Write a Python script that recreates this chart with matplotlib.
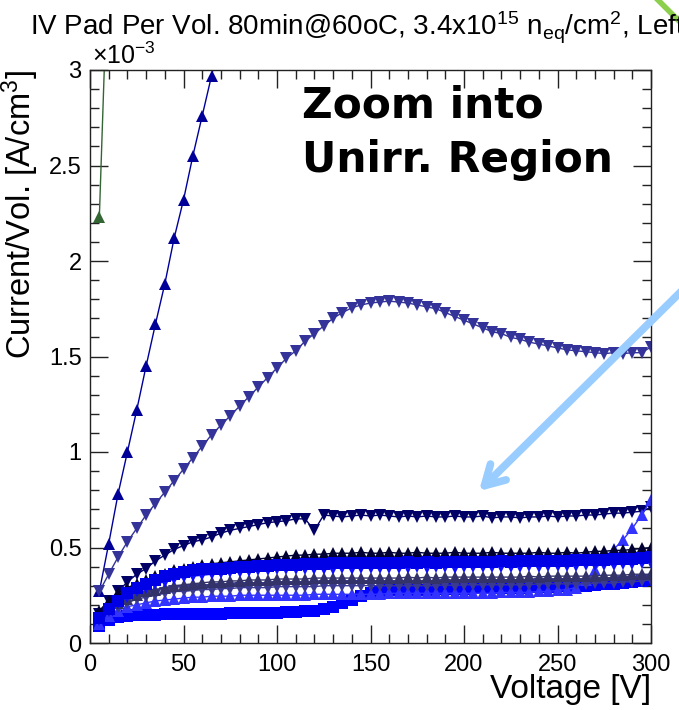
import matplotlib
matplotlib.use("Agg")
import matplotlib.pyplot as plt
from matplotlib.lines import Line2D

plt.rcParams['font.family'] = ['Liberation Sans', 'DejaVu Sans']
plt.rcParams['mathtext.fontset'] = 'custom'
plt.rcParams['mathtext.rm'] = 'Liberation Sans'
plt.rcParams['mathtext.it'] = 'Liberation Sans:italic'

# ---------------- data (current per volume in 1e-3 A/cm^3) ----------------
V = [5, 10, 15, 20, 25, 30, 35, 40, 45, 50, 55, 60, 65, 70, 75, 80, 85, 90, 95, 100,
     105, 110, 115, 120, 125, 130, 135, 140, 145, 150, 155, 160, 165, 170, 175, 180,
     185, 190, 195, 200, 205, 210, 215, 220, 225, 230, 235, 240, 245, 250, 255, 260,
     265, 270, 275, 280, 285, 290, 295, 300]

green_V = [5, 10]
green_I = [2.23, 3.7]

steep_V = [5, 10, 15, 20, 25, 30, 35, 40, 45, 50, 55, 60, 65, 70]
steep_I = [0.27, 0.52, 0.78, 1.00, 1.22, 1.45, 1.67, 1.88, 2.12, 2.32, 2.55, 2.76, 2.97, 3.18]

purple_I = [0.27, 0.36, 0.45, 0.53, 0.60, 0.67, 0.73, 0.79, 0.85, 0.91,
            0.97, 1.03, 1.09, 1.14, 1.19, 1.24, 1.29, 1.34, 1.39, 1.44,
            1.49, 1.53, 1.58, 1.62, 1.66, 1.70, 1.73, 1.755, 1.77, 1.78,
            1.785, 1.79, 1.785, 1.78, 1.77, 1.76, 1.75, 1.73, 1.71, 1.69,
            1.67, 1.65, 1.63, 1.62, 1.60, 1.59, 1.575, 1.565, 1.555, 1.545,
            1.535, 1.53, 1.525, 1.52, 1.515, 1.52, 1.515, 1.52, 1.52, 1.55]

navy_I = [0.15, 0.22, 0.27, 0.32, 0.36, 0.39, 0.43, 0.46, 0.49, 0.51,
          0.53, 0.54, 0.555, 0.575, 0.59, 0.60, 0.61, 0.62, 0.63, 0.635,
          0.64, 0.65, 0.65, 0.59, 0.67, 0.665, 0.66, 0.665, 0.67, 0.665,
          0.67, 0.665, 0.66, 0.665, 0.66, 0.665, 0.66, 0.66, 0.665, 0.66,
          0.66, 0.665, 0.655, 0.66, 0.66, 0.655, 0.66, 0.66, 0.665, 0.66,
          0.665, 0.665, 0.67, 0.67, 0.675, 0.68, 0.68, 0.685, 0.69, 0.71]

black_up_I = [0.17, 0.22, 0.26, 0.29, 0.31, 0.33, 0.35, 0.36, 0.38, 0.39,
              0.40, 0.41, 0.415, 0.42, 0.425, 0.43, 0.435, 0.44, 0.445, 0.45,
              0.455, 0.46, 0.46, 0.465, 0.465, 0.47, 0.47, 0.47, 0.475, 0.47,
              0.47, 0.475, 0.47, 0.47, 0.475, 0.47, 0.47, 0.47, 0.475, 0.47,
              0.47, 0.47, 0.475, 0.47, 0.47, 0.47, 0.47, 0.475, 0.47, 0.47,
              0.475, 0.47, 0.475, 0.48, 0.48, 0.485, 0.485, 0.49, 0.495, 0.50]

blue_sq_hi_I = [0.13, 0.18, 0.22, 0.26, 0.29, 0.31, 0.33, 0.35, 0.36, 0.37,
                0.38, 0.385, 0.39, 0.39, 0.395, 0.40, 0.40, 0.405, 0.405, 0.41,
                0.41, 0.41, 0.415, 0.415, 0.415, 0.42, 0.42, 0.42, 0.42, 0.42,
                0.42, 0.42, 0.42, 0.425, 0.42, 0.425, 0.42, 0.425, 0.425, 0.425,
                0.425, 0.425, 0.425, 0.43, 0.425, 0.43, 0.43, 0.43, 0.43, 0.43,
                0.43, 0.435, 0.435, 0.435, 0.435, 0.44, 0.44, 0.44, 0.445, 0.45]

blue_dn_I = [0.12, 0.17, 0.21, 0.24, 0.27, 0.29, 0.31, 0.32, 0.335, 0.345,
             0.35, 0.355, 0.36, 0.365, 0.37, 0.37, 0.375, 0.38, 0.38, 0.385,
             0.385, 0.385, 0.39, 0.39, 0.39, 0.39, 0.395, 0.39, 0.395, 0.395,
             0.395, 0.395, 0.395, 0.395, 0.40, 0.395, 0.40, 0.40, 0.395, 0.40,
             0.40, 0.40, 0.40, 0.40, 0.40, 0.40, 0.405, 0.40, 0.405, 0.405,
             0.405, 0.405, 0.41, 0.41, 0.41, 0.41, 0.415, 0.415, 0.42, 0.42]

grey_up_I = [0.14, 0.18, 0.21, 0.23, 0.25, 0.27, 0.28, 0.29, 0.30, 0.305,
             0.31, 0.315, 0.32, 0.32, 0.325, 0.325, 0.33, 0.33, 0.33, 0.335,
             0.335, 0.335, 0.335, 0.34, 0.34, 0.34, 0.34, 0.34, 0.34, 0.34,
             0.34, 0.34, 0.34, 0.345, 0.34, 0.345, 0.34, 0.345, 0.345, 0.345,
             0.345, 0.345, 0.345, 0.345, 0.345, 0.345, 0.35, 0.345, 0.35, 0.35,
             0.35, 0.35, 0.35, 0.35, 0.355, 0.355, 0.355, 0.36, 0.36, 0.36]

slate_dn_I = [0.13, 0.17, 0.19, 0.21, 0.23, 0.24, 0.25, 0.26, 0.27, 0.27,
              0.275, 0.28, 0.28, 0.285, 0.285, 0.29, 0.29, 0.29, 0.29, 0.295,
              0.295, 0.295, 0.295, 0.295, 0.30, 0.30, 0.30, 0.30, 0.30, 0.30,
              0.30, 0.30, 0.30, 0.30, 0.30, 0.30, 0.30, 0.305, 0.30, 0.305,
              0.305, 0.305, 0.305, 0.305, 0.305, 0.305, 0.305, 0.31, 0.31, 0.31,
              0.31, 0.31, 0.31, 0.315, 0.315, 0.315, 0.32, 0.32, 0.325, 0.33]

bright_up_I = [0.10, 0.14, 0.17, 0.19, 0.20, 0.21, 0.22, 0.225, 0.23, 0.235,
               0.24, 0.24, 0.245, 0.245, 0.245, 0.25, 0.25, 0.25, 0.25, 0.25,
               0.25, 0.25, 0.25, 0.255, 0.255, 0.255, 0.255, 0.255, 0.255, 0.255,
               0.255, 0.26, 0.26, 0.26, 0.26, 0.26, 0.26, 0.26, 0.26, 0.26,
               0.26, 0.26, 0.26, 0.265, 0.265, 0.265, 0.265, 0.27, 0.27, 0.275,
               0.28, 0.29, 0.33, 0.38, 0.45, 0.49, 0.54, 0.60, 0.67, 0.75]

blue_sq_lo_I = [0.09, 0.12, 0.135, 0.14, 0.145, 0.145, 0.145, 0.15, 0.15, 0.15,
                0.15, 0.15, 0.15, 0.15, 0.155, 0.155, 0.155, 0.155, 0.155, 0.155,
                0.16, 0.16, 0.165, 0.17, 0.18, 0.19, 0.21, 0.225, 0.245, 0.26,
                0.27, 0.275, 0.28, 0.28, 0.28, 0.28, 0.285, 0.285, 0.285, 0.285,
                0.29, 0.29, 0.29, 0.29, 0.29, 0.29, 0.295, 0.295, 0.295, 0.30,
                0.30, 0.30, 0.30, 0.305, 0.31, 0.31, 0.315, 0.32, 0.325, 0.33]

x_ticks = [0, 50, 100, 150, 200, 250, 300]
y_ticks = [0, 0.5, 1, 1.5, 2, 2.5, 3]
y_tick_labels = ['0', '0.5', '1', '1.5', '2', '2.5', '3']

# ---------------- figure ----------------
W, H = 679, 710
fig = plt.figure(figsize=(W / 100, H / 100), dpi=100)
ax = fig.add_axes([90 / W, 1 - 643 / H, (651 - 90) / W, (643 - 70) / H])

def series(x, y, color, marker, ms):
    ax.plot(x, y, color=color, lw=1.0, marker=marker, ms=ms,
            markeredgewidth=0, clip_on=True)

series(green_V, green_I, '#336633', '^', 8.5)
series(steep_V, steep_I, '#000099', '^', 8.5)
series(V, purple_I, '#333399', 'v', 8.5)
series(V, navy_I, '#000066', 'v', 8.5)
series(V, blue_sq_lo_I, '#0000ff', 's', 8.5)
series(V, bright_up_I, '#3333ff', '^', 8.5)
series(V, slate_dn_I, '#3a3a90', 'v', 8.5)
series(V, grey_up_I, '#33336a', '^', 8.5)
series(V, blue_dn_I, '#0d0dff', 'v', 8.5)
series(V, black_up_I, '#000033', '^', 8.5)
series(V, blue_sq_hi_I, '#0000e6', 's', 8)

ax.set_xlim(0, 300)
ax.set_ylim(0, 3)
ax.set_xticks(x_ticks)
ax.set_xticks(list(range(0, 301, 10)), minor=True)
ax.set_yticks(y_ticks)
ax.set_yticklabels(y_tick_labels)
ax.set_yticks([i / 10 for i in range(0, 31)], minor=True)
ax.tick_params(which='both', direction='in', top=True, right=True,
               labelsize=17, width=1, color='#222222')
ax.tick_params(which='major', length=13)
ax.tick_params(which='minor', length=6.5)
ax.tick_params(axis='x', pad=8)
ax.tick_params(axis='y', pad=6)
for s in ax.spines.values():
    s.set_linewidth(1.0)
    s.set_color('#222222')

# axis titles (ROOT style: right / top aligned)
fig.text(651 / W, 1 - 698 / H, 'Voltage [V]', fontsize=24, ha='right', va='baseline')
fig.text(20 / W, 1 - 70 / H, 'Current/Vol. [A/cm$^{3}$]', fontsize=23.5,
         rotation=90, ha='center', va='top')

fig.text(92 / W, 1 - 64 / H, r'$\times$10$^{-3}$', fontsize=18, va='baseline')

fig.text(30 / W, 1 - 35 / H,
         'IV Pad Per Vol. 80min@60oC, 3.4x10$^{15}$ n$_{\\rm eq}$/cm$^{2}$, Left',
         fontsize=20, va='baseline')

fig.text(302 / W, 1 - 117 / H, 'Zoom into', fontsize=30.5, fontweight='bold',
         family='DejaVu Sans', va='baseline')
fig.text(302 / W, 1 - 172 / H, 'Unirr. Region', fontsize=30.5, fontweight='bold',
         family='DejaVu Sans', va='baseline')

# annotation arrow (light blue) and green stroke at the corner
ax.annotate('', xy=(477, H - 493), xycoords='figure pixels',
            xytext=(715, H - 258), textcoords='figure pixels',
            arrowprops=dict(arrowstyle='->,head_length=1.4,head_width=0.8',
                            color='#99ccff', lw=5.5),
            annotation_clip=False)
fig.add_artist(Line2D([658 / W, 684 / W], [1.0, 1 - 26 / H],
                      transform=fig.transFigure, color='#8ccf4d', lw=4))

fig.savefig('out.png', dpi=100)
